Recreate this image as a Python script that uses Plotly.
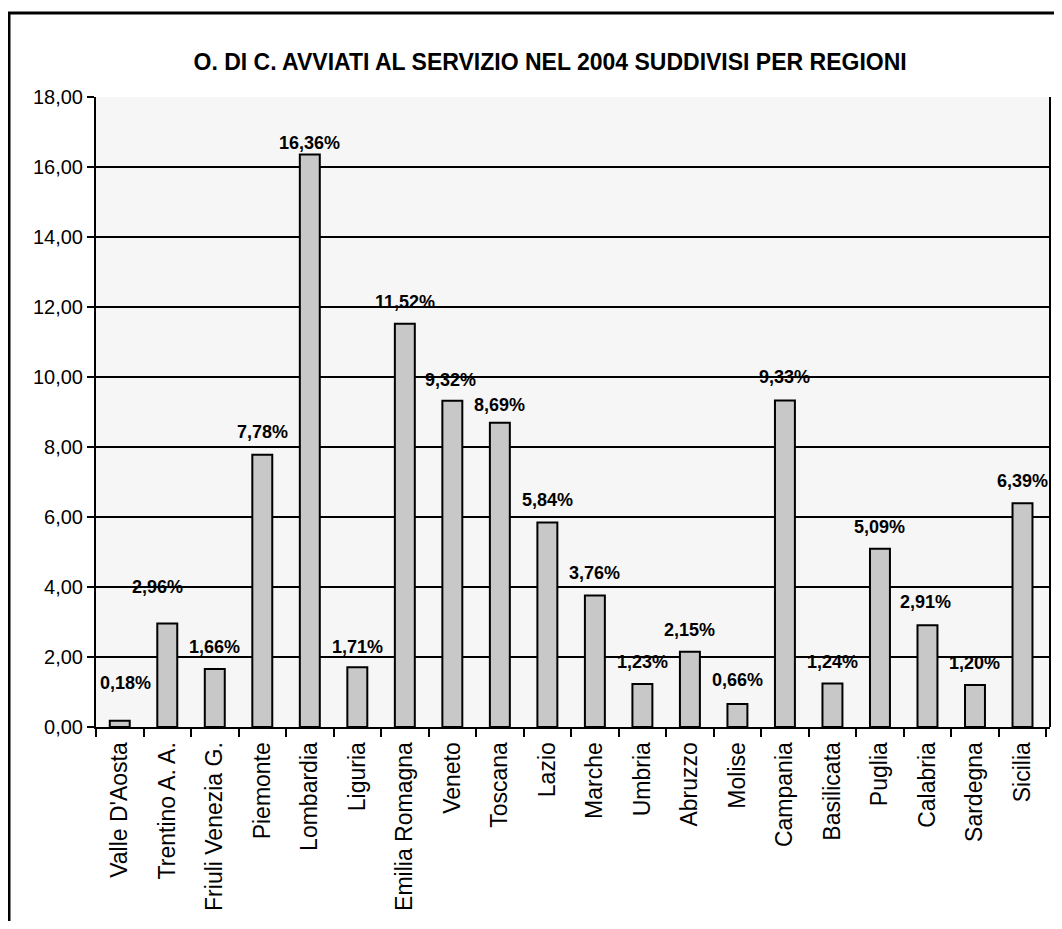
import plotly.graph_objects as go

regions = ["Valle D'Aosta", "Trentino A. A.", "Friuli Venezia G.", "Piemonte", "Lombardia",
           "Liguria", "Emilia Romagna", "Veneto", "Toscana", "Lazio", "Marche", "Umbria",
           "Abruzzo", "Molise", "Campania", "Basilicata", "Puglia", "Calabria", "Sardegna", "Sicilia"]
values = [0.18, 2.96, 1.66, 7.78, 16.36, 1.71, 11.52, 9.32, 8.69, 5.84, 3.76, 1.23,
          2.15, 0.66, 9.33, 1.24, 5.09, 2.91, 1.20, 6.39]
y_ticks = [0, 2, 4, 6, 8, 10, 12, 14, 16, 18]
title_text = "O. DI C. AVVIATI AL SERVIZIO NEL 2004 SUDDIVISI PER REGIONI"

# label placement offsets (pixels) above each bar
label_dy = [38, 36, 22, 23, 11, 20, 22, 21, 18, 23, 22, 22, 22, 24, 23, 22, 22, 23, 22, 22]
label_dx = [6, -10, 0, 0, 0, 0, 0, -2, 0, 0, 0, 0, 0, 0, 0, 0, 0, -2, 0, 0]

FONT = "Liberation Sans, Arial, sans-serif"

W, H = 1046, 913

fig = go.Figure()
fig.add_trace(go.Bar(
    x=regions, y=values,
    marker=dict(color="#c8c8c8", line=dict(color="black", width=2)),
    hoverinfo="x+y",
))

for r, v, dy, dx in zip(regions, values, label_dy, label_dx):
    fig.add_annotation(
        x=r, y=v, xref="x", yref="y",
        text=("%.2f" % v).replace(".", ",") + "%",
        showarrow=False, yanchor="middle", xanchor="center",
        yshift=dy, xshift=dx,
        font=dict(family=FONT, size=18, color="black", weight="bold"),
    )

# outer frame
fig.add_shape(type="rect", xref="paper", yref="paper",
              x0=-0.0912, x1=1.05, y0=-0.6, y1=1.1333,
              line=dict(color="black", width=3), layer="below")

fig.update_layout(
    width=W, height=H,
    paper_bgcolor="white", plot_bgcolor="#f6f6f6",
    margin=dict(l=88, r=4, t=89, b=194, autoexpand=False),
    separators=",.",
    bargap=0.58,
    showlegend=False,
    title=dict(text=title_text, x=0.476, xanchor="center", xref="paper",
               y=1 - 54 / H, yanchor="middle",
               font=dict(family=FONT, size=23, color="black", weight="bold")),
    font=dict(family=FONT, color="black"),
)

fig.update_xaxes(
    type="category", tickangle=-90,
    tickfont=dict(family=FONT, size=23, color="black"),
    showline=True, linecolor="black", linewidth=2,
    ticks="outside", tickson="boundaries", ticklen=8, tickwidth=2, tickcolor="black",
    ticklabelstandoff=4,
    showgrid=False, mirror=False,
)
fig.update_yaxes(
    range=[0, 18], tickvals=y_ticks, tickformat=".2f",
    tickfont=dict(family=FONT, size=20, color="black"),
    showline=True, linecolor="black", linewidth=2,
    ticks="outside", ticklen=7, tickwidth=2, tickcolor="black",
    showgrid=True, gridcolor="black", gridwidth=1.5,
    zeroline=False,
)

# right edge of plot area
fig.add_shape(type="line", xref="paper", yref="paper", x0=1, x1=1, y0=0, y1=1,
              line=dict(color="black", width=2))

fig.write_html("out.html")
